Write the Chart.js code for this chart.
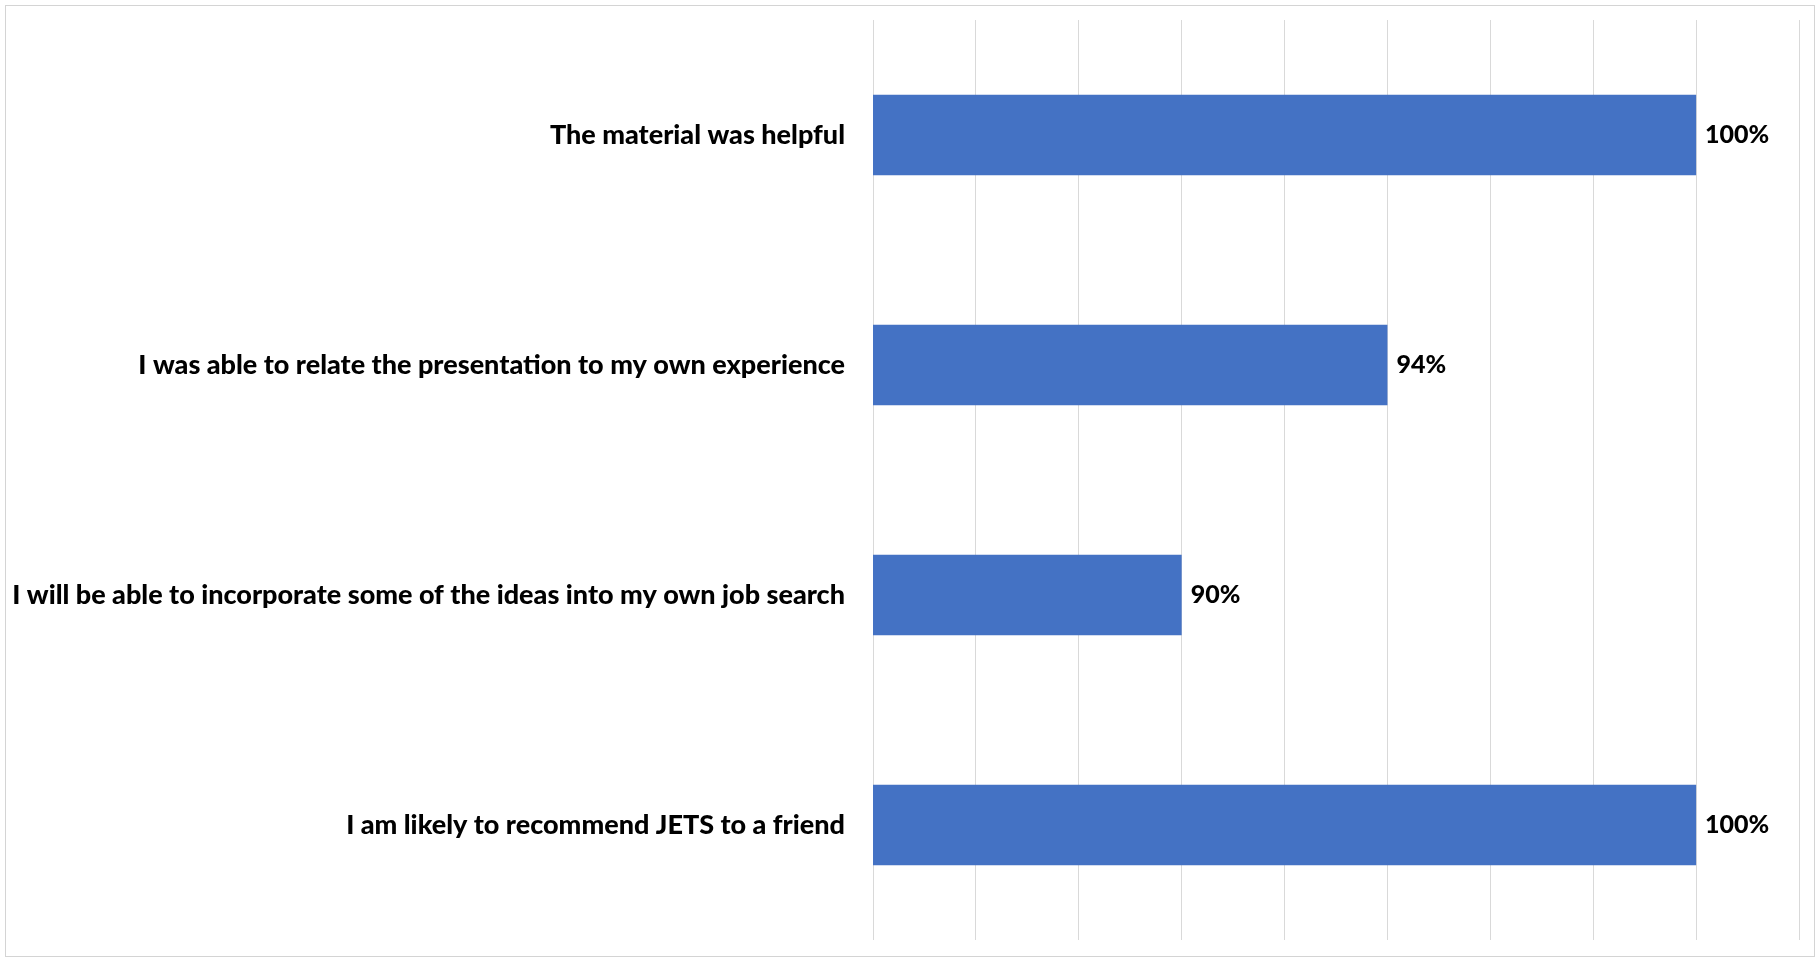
<!DOCTYPE html>
<html>
<head>
<meta charset="utf-8">
<script src="https://cdn.jsdelivr.net/npm/chart.js@4"></script>
<style>
  html, body { margin: 0; padding: 0; background: #fff; }
  #wrap { position: relative; width: 1816px; height: 959px; }
  #frame { position: absolute; left: 5px; top: 5px; width: 1808px; height: 950px;
           border: 1px solid #d4d4d4; pointer-events: none; }
</style>
</head>
<body>
<div id="wrap">
  <canvas id="chart" width="1816" height="959"></canvas>
  <div id="frame"></div>
</div>
<script>
const statements = [
  'The material was helpful',
  'I was able to relate the presentation to my own experience',
  'I will be able to incorporate some of the ideas into my own job search',
  'I am likely to recommend JETS to a friend'
];
const agreePercent = [100, 94, 90, 100];

const axisMin = 84;
const axisMax = 102;
const axisStep = 2;

const labelFont = 'Lato, "Open Sans", sans-serif';

// draws the % value just past the end of each bar
const valueLabels = {
  id: 'valueLabels',
  afterDatasetsDraw(chart) {
    const ctx = chart.ctx;
    const meta = chart.getDatasetMeta(0);
    ctx.save();
    ctx.font = '900 25px ' + labelFont;
    ctx.fillStyle = '#000';
    ctx.textAlign = 'left';
    ctx.textBaseline = 'middle';
    meta.data.forEach((bar, i) => {
      ctx.fillText(agreePercent[i] + '%', bar.x + 9, bar.y);
    });
    ctx.restore();
  }
};

new Chart(document.querySelector('#chart').getContext('2d'), {
  type: 'bar',
  data: {
    labels: statements,
    datasets: [{
      data: agreePercent,
      backgroundColor: '#4472C4',
      borderWidth: 0,
      categoryPercentage: 1,
      barPercentage: 0.35
    }]
  },
  options: {
    indexAxis: 'y',
    responsive: false,
    animation: false,
    layout: { padding: { top: 20, bottom: 19, right: 17, left: 0 } },
    plugins: { legend: { display: false }, tooltip: { enabled: false } },
    scales: {
      x: {
        min: axisMin,
        max: axisMax,
        ticks: { stepSize: axisStep, display: false },
        grid: { color: '#d9d9d9', lineWidth: 1, drawTicks: false },
        border: { display: false },
        afterFit(scale) { scale.paddingLeft = 0; scale.paddingRight = 0; }
      },
      y: {
        afterFit(scale) {
          scale.width = 873;
          scale.paddingTop = 0;
          scale.paddingBottom = 0;
        },
        grid: { display: false, drawTicks: false },
        border: { display: false },
        ticks: {
          padding: 28,
          color: '#000',
          font: { family: labelFont, size: 27, weight: '900' }
        }
      }
    }
  },
  plugins: [valueLabels]
});
</script>
</body>
</html>
